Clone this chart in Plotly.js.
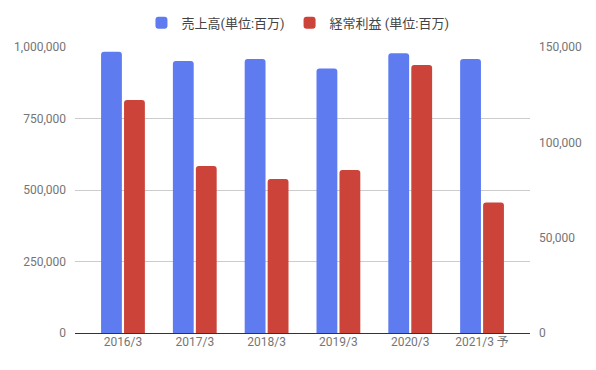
<!DOCTYPE html>
<html>
<head>
<meta charset="utf-8">
<script src="https://cdn.plot.ly/plotly-3.0.1.min.js"></script>
<style>html,body{margin:0;padding:0;background:#fff}#chart{width:596px;height:370px}</style>
</head>
<body>
<div id="chart"></div>
<script>
const categories = ["2016/3", "2017/3", "2018/3", "2019/3", "2020/3", "2021/3 予"];
const salesName = "売上高(単位:百万)";
const profitName = "経常利益 (単位:百万)";
const sales = [983000, 951000, 958000, 925000, 978000, 958000];
const profit = [122200, 87600, 80800, 85500, 140600, 68500];
const leftTicks = [0, 250000, 500000, 750000, 1000000];
const rightTicks = [0, 50000, 100000, 150000];

const font = "Roboto, 'Noto Sans CJK JP', Arial, sans-serif";
const traces = [
  {type: "bar", x: categories, y: sales, name: salesName, yaxis: "y",
   width: 0.29, offset: -0.305,
   marker: {color: "#5f7bf0", cornerradius: 3}, hoverinfo: "x+y"},
  {type: "bar", x: categories, y: profit, name: profitName, yaxis: "y2",
   width: 0.29, offset: 0.015,
   marker: {color: "#cc4339", cornerradius: 3}, hoverinfo: "x+y"}
];
const layout = {
  width: 596, height: 370,
  margin: {l: 75, r: 66, t: 47, b: 37, autoexpand: false},
  paper_bgcolor: "#fff", plot_bgcolor: "#fff",
  font: {family: font, size: 12, color: "#757575"},
  showlegend: true,
  legend: {orientation: "h", x: 0.49, xanchor: "center", y: 1.085, yanchor: "middle",
           font: {size: 13, color: "#444"}, itemwidth: 30, traceorder: "normal"},
  xaxis: {type: "category", range: [-0.668, 5.668], showgrid: false, showline: false,
          ticks: "", tickfont: {size: 12, color: "#757575"}, zeroline: false},
  yaxis: {range: [0, 1000000], tickvals: leftTicks, tickformat: ",", showgrid: true,
          gridcolor: "#cccccc", gridwidth: 1, zeroline: true, zerolinecolor: "#333",
          zerolinewidth: 1, ticks: "", ticklen: 0, tickfont: {size: 12, color: "#757575"},
          showline: false, ticklabelstandoff: 8},
  yaxis2: {range: [0, 150000], tickvals: rightTicks, tickformat: ",", overlaying: "y",
           side: "right", showgrid: false, zeroline: false, ticks: "", showline: false,
           tickfont: {size: 12, color: "#757575"}, ticklabelstandoff: 8},
  bargap: 0.38
};
Plotly.newPlot("chart", traces, layout, {displayModeBar: false, staticPlot: true});
</script>
</body>
</html>
